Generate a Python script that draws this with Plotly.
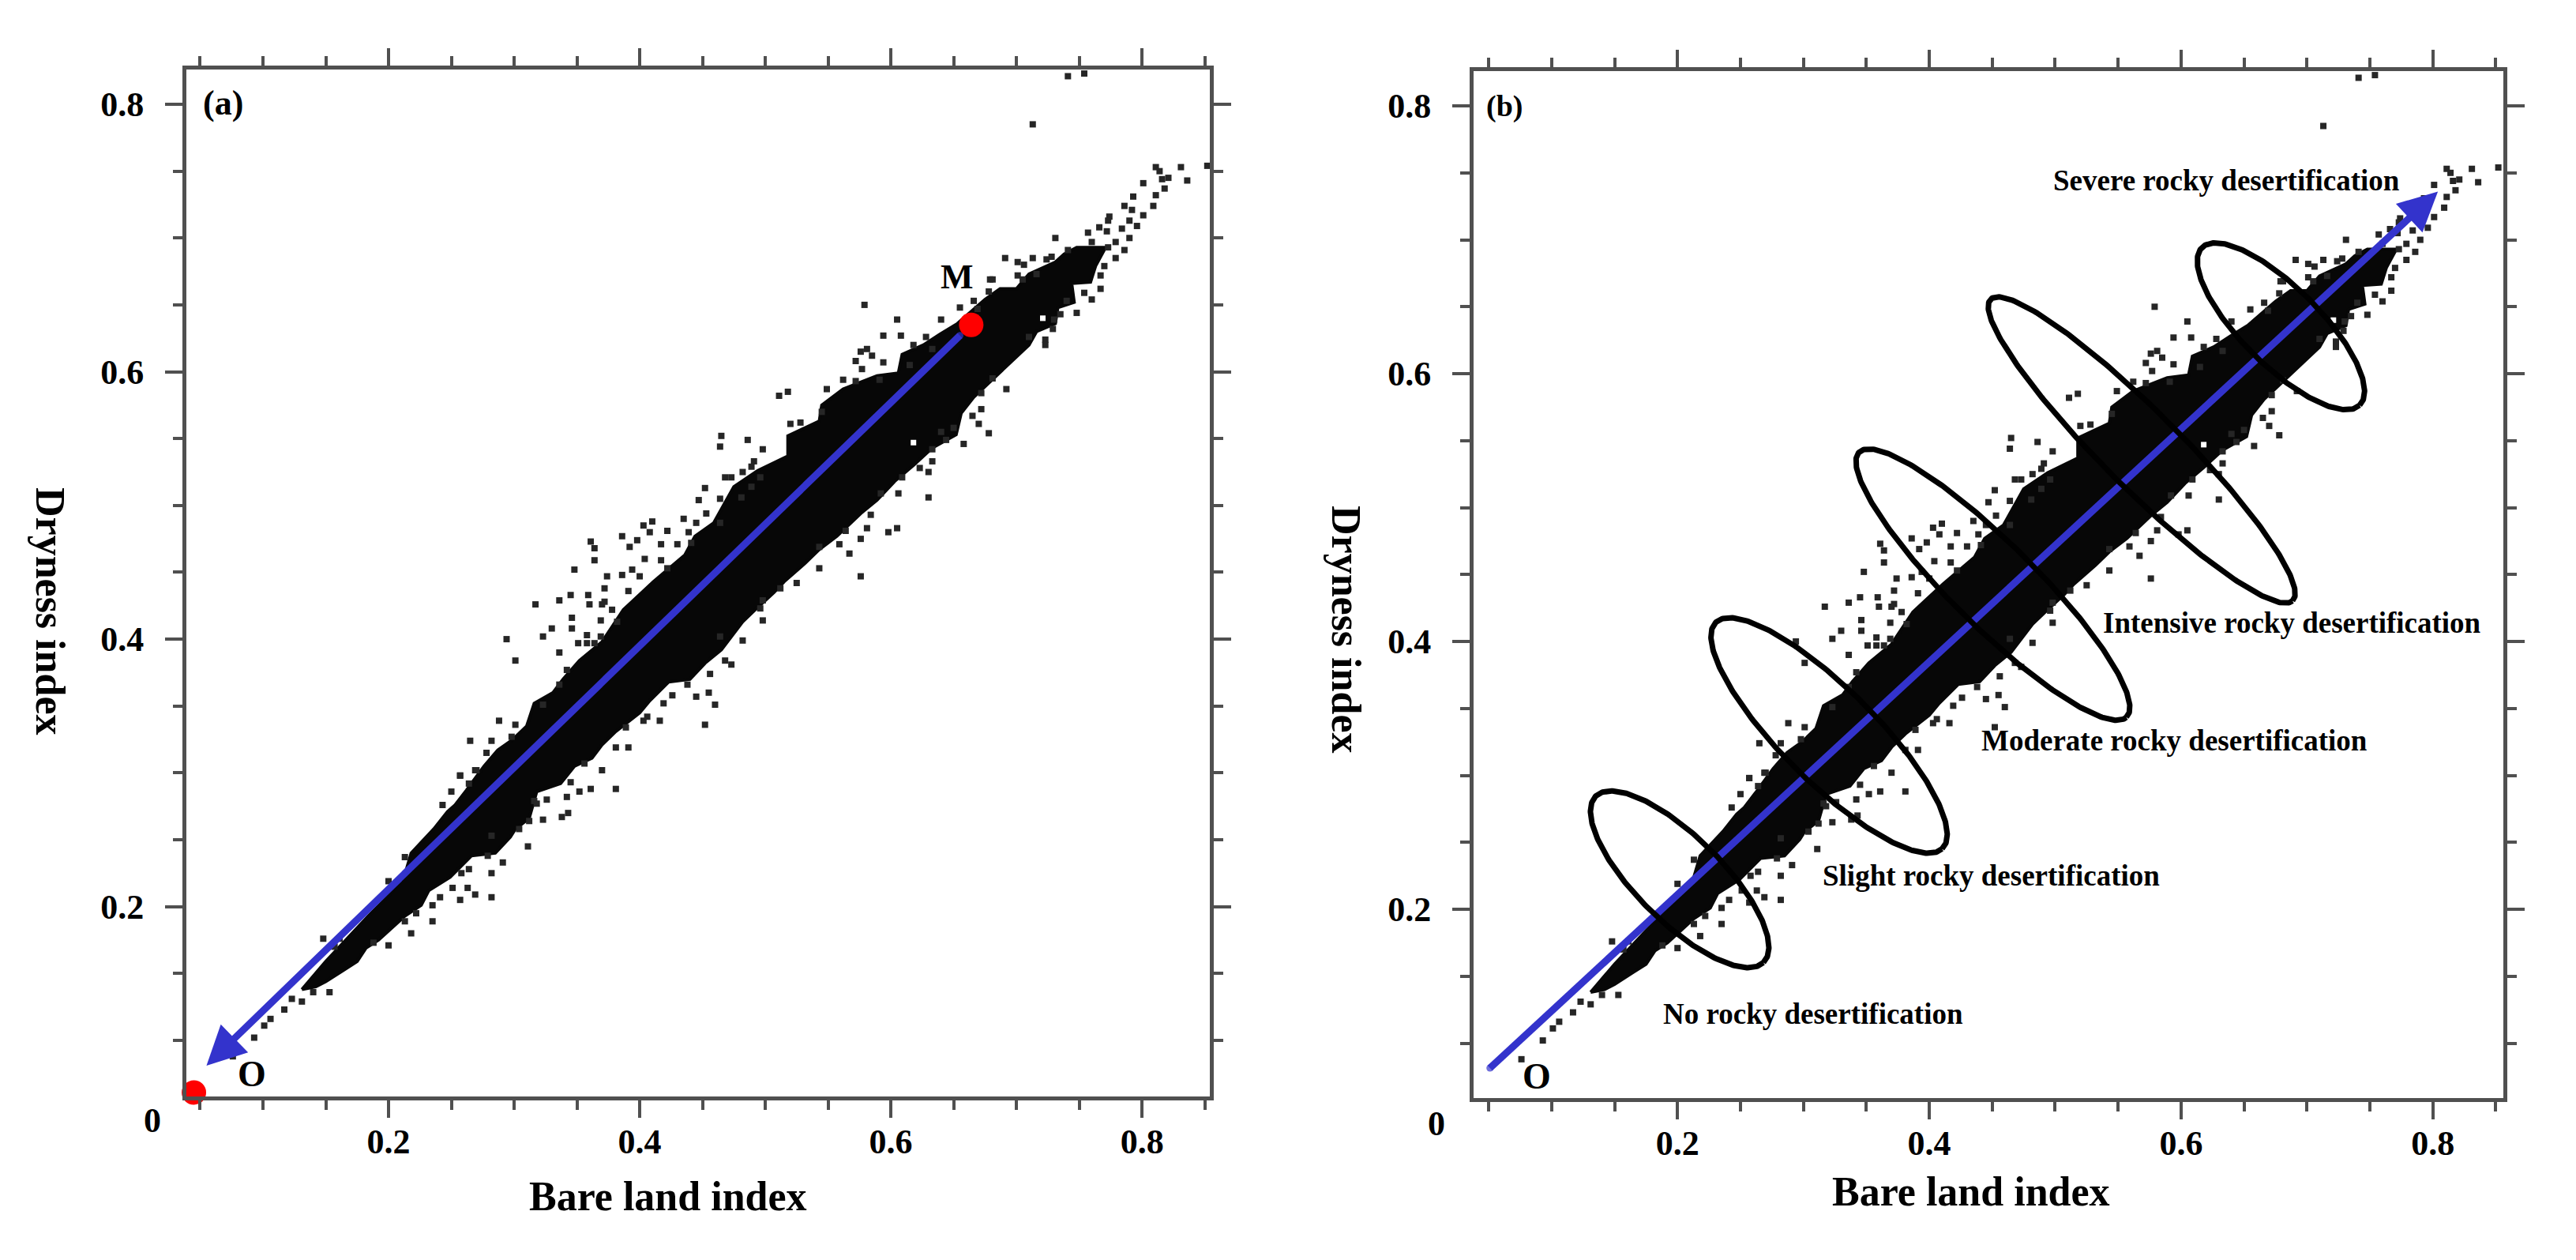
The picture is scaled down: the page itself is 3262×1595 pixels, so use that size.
import numpy as np
import plotly.graph_objects as go

# ---- dense core of the point cloud: outline (bare land, dryness) ----
core_x = [.131,.150,.184,.201,.213,.218,.226,.236,.247,.253,.262,.276,.287,.299,.310,.316,.331,.339,.352,.370,
          .387,.411,.436,.444,.459,.475,.494,.518,.518,.543,.545,.562,.589,.606,.609,.626,.639,.653,.675,.687,
          .700,.710,.731,.738,.748,.771,
          .763,.759,.744,.746,.733,.731,.716,.710,.675,.666,.656,.652,.633,.618,.603,.589,.576,.557,.543,.532,
          .515,.507,.492,.482,.465,.452,.440,.423,.408,.400,.381,.370,.362,.348,.337,.318,.312,.301,.297,.285,
          .266,.249,.232,.226,.213,.201,.192,.182,.175,.165,.150,.142]
core_y = [.138,.159,.193,.209,.224,.240,.248,.258,.271,.276,.287,.305,.317,.325,.335,.352,.360,.370,.384,.398,
          .422,.443,.463,.477,.487,.514,.526,.537,.552,.563,.575,.587,.597,.599,.613,.620,.628,.636,.654,.662,
          .662,.673,.682,.688,.693,.693,
          .679,.667,.666,.652,.648,.636,.630,.620,.589,.581,.569,.553,.543,.530,.518,.504,.494,.477,.467,.457,
          .443,.435,.422,.413,.392,.382,.370,.368,.354,.345,.331,.321,.311,.305,.292,.286,.266,.258,.252,.240,
          .238,.222,.212,.201,.193,.183,.175,.169,.159,.153,.144,.140]

# ---- scattered points around the core, read one by one ----
speck_x = [.148,.161,.157,.140,.153,.131,.123,.117,.106,.101,.093,.076,.200,.188,.218,.235,.235,.222,.213,.257,
           .269,.282,.241,.251,.263,.282,.291,.311,.282,.257,.269,.250,.243,.213,.200,.258,.264,.279,.316,.312,.304,
           .294,.301,.317,.336,.345,.359,.323,.330,.346,.346,.336,.361,.364,.364,.348,.374,.386,.386,.394,.400,
           .372,.391,.360,.370,.378,.372,.369,.382,.358,.351,.364,.358,.369,.342,.336,.323,.288,.301,.298,.265,
           .282,.278,.270,.257,.264,.392,.398,.417,.404,.417,.422,.430,.439,.422,.408,.403,.410,.435,.445,.441,
           .498,.496,.498,.482,.464,.468,.473,.456,.445,.455,.460,.452,.416,.403,.391,.381,.370,.361,.381,.352,
           .342,.343,.338,.323,.326,.318,.345,.356,.438,.426,.419,.406,.389,
           .579,.605,.640,.594,.608,.576,.581,.585,.572,.594,.577,.615,.518,.511,.549,.465,.464,.486,.498,.468,
           .473,.482,.491,.489,.496,.452,.447,.464,.481,.489,.453,.464,.520,.528,.655,.679,.669,.666,.628,.618,
           .633,.591,.572,.562,.545,
           .681,.692,.672,.672,.665,.670,.678,.658,.650,.640,.644,.633,.633,.623,.630,.630,.609,.606,.592,.584,
           .598,.605,.581,.576,.564,.559,.567,.543,.576,.543,.525,.512,
           .713,.741,.754,.811,.814,.831,.852,.836,.821,.816,.801,.818,.811,.793,.809,.786,.792,.801,.790,.774,
           .773,.766,.796,.784,.757,.772,.731,.790,.779,.760,.786,.773,.779,.741,.770,.767,.767,.760,.754,.748,
           .735,.740,.691,.701,.706,.713,.724,.728,.716,.701,.705,.681,.678,.723,.710,.723,.729,.730]
speck_y = [.176,.176,.170,.136,.136,.129,.131,.123,.116,.111,.102,.088,.171,.173,.180,.189,.201,.195,.189,.205,
           .209,.207,.207,.214,.214,.225,.233,.245,.253,.298,.302,.286,.276,.237,.219,.225,.228,.238,.279,.264,.258,
           .400,.384,.426,.429,.433,.433,.402,.408,.408,.416,.390,.473,.468,.459,.452,.447,.477,.448,.452,.447,
           .438,.436,.426,.426,.422,.428,.414,.413,.397,.397,.397,.403,.402,.377,.366,.351,.339,.336,.327,.324,
           .324,.315,.302,.298,.292,.469,.474,.471,.460,.459,.453,.471,.480,.481,.480,.485,.488,.490,.487,.472,
           .429,.423,.414,.399,.402,.384,.381,.374,.357,.360,.351,.336,.339,.339,.319,.319,.302,.288,.288,.286,
           .282,.270,.267,.265,.280,.277,.293,.307,.366,.358,.352,.342,.334,
           .650,.639,.639,.627,.627,.615,.617,.612,.608,.607,.602,.605,.585,.582,.587,.552,.544,.549,.542,.521,
           .521,.525,.533,.529,.521,.513,.504,.505,.506,.514,.494,.487,.561,.562,.648,.669,.647,.653,.626,.620,
           .617,.594,.593,.594,.570,
           .595,.587,.584,.572,.567,.561,.554,.546,.558,.555,.549,.542,.533,.528,.525,.506,.521,.509,.509,.493,
           .480,.483,.483,.475,.481,.471,.464,.469,.447,.453,.442,.438,
           .785,.821,.823,.753,.750,.753,.754,.743,.745,.744,.741,.737,.732,.731,.724,.724,.721,.717,.713,.716,
           .713,.708,.709,.707,.704,.705,.700,.700,.697,.697,.691,.693,.685,.691,.679,.672,.662,.654,.659,.644,
           .643,.653,.685,.682,.680,.685,.684,.686,.673,.672,.669,.669,.660,.624,.626,.620,.632,.639]
hole_x = [.721, .618]
hole_y = [.640, .547]

# ---- axes ----
major_ticks = [0.2, 0.4, 0.6, 0.8]
minor_ticks = [0.05, 0.1, 0.15, 0.25, 0.3, 0.35, 0.45, 0.5, 0.55, 0.65, 0.7, 0.75, 0.85]
tick_labels = ["0.2", "0.4", "0.6", "0.8"]
xrange_a, yrange_a = [0.039, 0.854], [0.058, 0.826]
xrange_b, yrange_b = [0.038, 0.856], [0.059, 0.826]

# ---- panel (a): O and M, and the arrow between them ----
om_x = [0.045, 0.664]
om_y = [0.061, 0.635]
shaft_a_x = [0.655, 0.073]
shaft_a_y = [0.627, 0.0975]
tip_a = (0.055, 0.081)

# ---- panel (b): arrow ----
shaft_b_x = [0.051, 0.7856]
shaft_b_y = [0.0814, 0.720]
tip_b = (0.804, 0.736)

# ---- panel (b): the five class ellipses: centre, long half-axis, short half-axis ----
ell_cx = [0.2017, 0.3204, 0.4505, 0.5687, 0.6793]
ell_cy = [0.2224, 0.3298, 0.4425, 0.5430, 0.6354]
ell_ax = [0.0665, 0.0897, 0.1060, 0.1198, 0.0625]
ell_ay = [-0.0622, -0.0847, -0.0991, -0.1127, -0.0590]
ell_bx = [0.0245, 0.0276, 0.0245, 0.0226, 0.0226]
ell_by = [0.0221, 0.0236, 0.0212, 0.0195, 0.0201]

class_names = ["No rocky desertification", "Slight rocky desertification",
               "Moderate rocky desertification", "Intensive rocky desertification",
               "Severe rocky desertification"]
class_x = [0.3075, 0.449, 0.595, 0.688, 0.636]
class_y = [0.122, 0.225, 0.326, 0.4136, 0.7445]

FONT = "Liberation Serif"
BLUE = "#3333cc"
BLACK = "#070707"
AXC = "#505050"
W, H = 3262, 1595

fig = go.Figure()

def add_cloud(xa, ya):
    fig.add_trace(go.Scatter(x=core_x + core_x[:1], y=core_y + core_y[:1], mode="lines", fill="toself",
                             fillcolor=BLACK, line=dict(width=4, color=BLACK), xaxis=xa, yaxis=ya,
                             hoverinfo="skip", showlegend=False))
    fig.add_trace(go.Scatter(x=speck_x, y=speck_y, mode="markers",
                             marker=dict(symbol="square", size=8, color="#262626", line=dict(width=0)),
                             xaxis=xa, yaxis=ya, hoverinfo="skip", showlegend=False))
    fig.add_trace(go.Scatter(x=hole_x, y=hole_y, mode="markers",
                             marker=dict(symbol="square", size=7, color="#ffffff", line=dict(width=0)),
                             xaxis=xa, yaxis=ya, hoverinfo="skip", showlegend=False))

def add_shaft(sx, sy, xa, ya):
    fig.add_trace(go.Scatter(x=sx, y=sy, mode="lines+markers", line=dict(color=BLUE, width=9),
                             marker=dict(size=[9, 0], color=BLUE, line=dict(width=0)),
                             xaxis=xa, yaxis=ya, hoverinfo="skip", showlegend=False))

add_cloud("x", "y")
add_shaft(shaft_a_x, shaft_a_y, "x", "y")
fig.add_trace(go.Scatter(x=om_x, y=om_y, mode="markers", cliponaxis=False,
                         marker=dict(size=31, color="#ff0000", line=dict(width=0)),
                         xaxis="x", yaxis="y", hoverinfo="skip", showlegend=False))

add_cloud("x2", "y2")
add_shaft(shaft_b_x, shaft_b_y, "x2", "y2")
t = np.linspace(0, 2 * np.pi, 361)
for cx, cy, ax_, ay_, bx, by in zip(ell_cx, ell_cy, ell_ax, ell_ay, ell_bx, ell_by):
    fig.add_trace(go.Scatter(x=cx + ax_ * np.cos(t) + bx * np.sin(t),
                             y=cy + ay_ * np.cos(t) + by * np.sin(t),
                             mode="lines", line=dict(color="#000000", width=7),
                             xaxis="x2", yaxis="y2", hoverinfo="skip", showlegend=False))

def axis(rng, domain, anchor, labelstand=0):
    return dict(range=rng, domain=domain, anchor=anchor, showgrid=False, zeroline=False,
                showline=True, linecolor=AXC, linewidth=5, mirror="ticks",
                ticks="outside", ticklen=22, tickwidth=4, tickcolor=AXC,
                tickvals=major_ticks, ticktext=tick_labels,
                tickfont=dict(family=FONT, size=44, color="#000000", weight="bold"),
                ticklabelstandoff=labelstand,
                minor=dict(tickvals=minor_ticks, ticks="outside", ticklen=12, tickwidth=4, tickcolor=AXC))

layout = dict(
    width=W, height=H, autosize=False, margin=dict(l=0, r=0, t=0, b=0, pad=0),
    paper_bgcolor="#ffffff", plot_bgcolor="#ffffff", showlegend=False,
    xaxis=axis(xrange_a, [236 / W, 1532 / W], "y", -8),
    yaxis=axis(yrange_a, [1 - 1388 / H, 1 - 88 / H], "x", 18),
    xaxis2=axis(xrange_b, [1866 / W, 3170 / W], "y2", -8),
    yaxis2=axis(yrange_b, [1 - 1390 / H, 1 - 90 / H], "x2", 18),
)
fig.update_layout(**layout)

def txt(text, x, y, size, xref="paper", yref="paper", angle=0):
    fig.add_annotation(text="<b>%s</b>" % text, x=x, y=y, xref=xref, yref=yref, showarrow=False,
                       xanchor="center", yanchor="middle", textangle=angle,
                       font=dict(family=FONT, size=size, color="#000000"))

def head(tip, tail, xa, ya):
    fig.add_annotation(x=tip[0], y=tip[1], ax=tail[0], ay=tail[1], xref=xa, yref=ya, axref=xa, ayref=ya,
                       text="", showarrow=True, arrowhead=2, arrowsize=1.1, arrowwidth=9, arrowcolor=BLUE,
                       standoff=0, startstandoff=0)

head(tip_a, (shaft_a_x[1], shaft_a_y[1]), "x", "y")
head(tip_b, (shaft_b_x[1], shaft_b_y[1]), "x2", "y2")

txt("(a)", 0.0685, 0.801, 44, "x", "y")
txt("O", 0.091, 0.075, 46, "x", "y")
txt("M", 0.653, 0.671, 44, "x", "y")
txt("(b)", 0.0627, 0.800, 38, "x2", "y2")
txt("O", 0.0884, 0.0755, 46, "x2", "y2")
for name, cx, cy in zip(class_names, class_x, class_y):
    txt(name, cx, cy, 37, "x2", "y2")

txt("0", 193 / W, 1 - 1418 / H, 44)
txt("0", 1819 / W, 1 - 1422 / H, 44)
txt("Bare land index", 846 / W, 1 - 1514 / H, 52)
txt("Bare land index", 2496 / W, 1 - 1508 / H, 52)
txt("Dryness index", 64 / W, 1 - 773 / H, 52, angle=90)
txt("Dryness index", 1705 / W, 1 - 797 / H, 52, angle=90)

fig.write_html("out.html", config={"displayModeBar": False},
               post_script="document.body.style.margin='0';")
